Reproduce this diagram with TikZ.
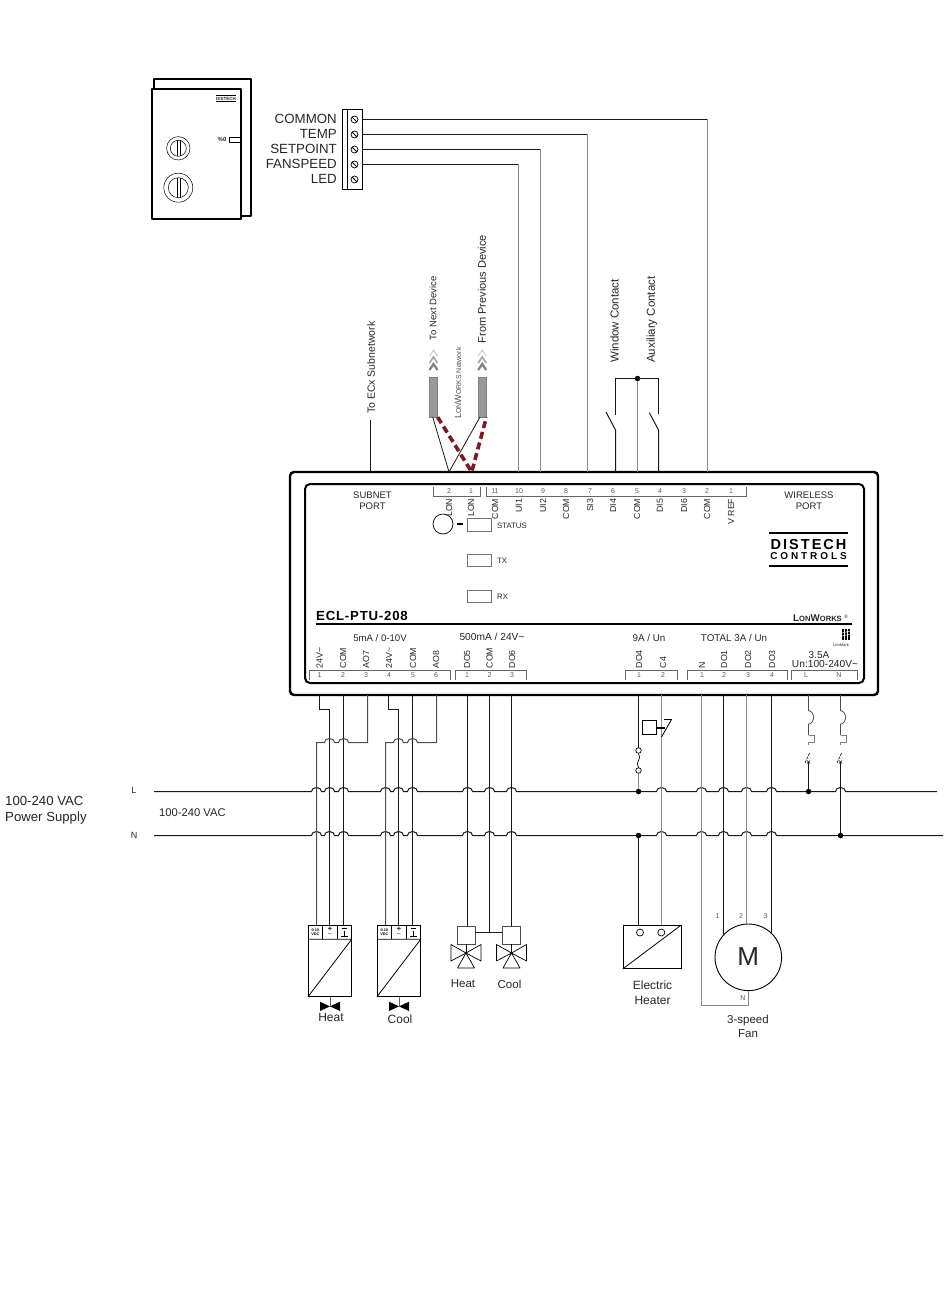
\documentclass[tikz,border=0pt]{standalone}
\usepackage{fontspec}
\setmainfont{Liberation Sans}
\newfontfamily\logofont[LetterSpace=14]{Liberation Sans}
\newfontfamily\logofontb[LetterSpace=29]{Liberation Sans}
\newfontfamily\modelfont[LetterSpace=6]{Liberation Sans}
\usetikzlibrary{calc}
\definecolor{wiregray}{HTML}{8A8A8A}
\definecolor{netred}{HTML}{7A1A20}
\tikzset{
  txt/.style={font=\fontsize{#1}{#1}\selectfont, text=black!85},
  wire/.style={draw=black!90, line width=1pt},
  graywire/.style={draw=wiregray, line width=1pt},
  pinnum/.style={txt=7, text=black!65},
  pinup/.style={txt=8.8, rotate=90, anchor=west},
  pindown/.style={txt=8.8, rotate=90, anchor=east},
  bracket/.style={draw=black!60, line width=0.8pt},
  side/.style={txt=#1, rotate=90, anchor=west},
  screw/.style={circle, draw, line width=0.7pt, minimum size=7pt},
  junction/.style={circle, fill=black, minimum size=5.5pt},
  led/.style={draw=black!55, line width=0.8pt, minimum width=24pt, minimum height=12.5pt}
}
\begin{document}
\begin{tikzpicture}[x=1pt, y=-1pt, every node/.style={inner sep=0pt}]
  \useasboundingbox (0,0) rectangle (950,1292);

  % Wall sensor
  \draw[line width=1.2pt, line join=round] (154,89) -- (154,79) -- (251,79) -- (251,216) -- (241,216);
  \draw[line width=1.2pt, line join=round] (152,89) rectangle (241,219);
  \node[txt=4.5, font=\bfseries\fontsize{4.5}{4.5}\selectfont] (sensorlogo) at (226,98.5) {DISTECH};
  \draw[line width=0.6pt] (216,95.5) -- (236,95.5) (216,101.5) -- (236,101.5);
  \node[txt=6, font=\bfseries\fontsize{6}{6}\selectfont] (sensorled) at (222,139.5) {\%0};
  \draw[line width=0.7pt] (241,137) -- (229,137) -- (229,142) -- (241,142);
  \foreach \n/\yy/\ra/\rb in {a/148.3/11.7/8, b/187.7/14.5/10} {
    \node[circle, draw, line width=0.5pt, minimum size=2*\ra pt] (knob\n) at (178.3,\yy) {};
    \node[circle, draw, line width=0.5pt, minimum size=2*\rb pt] at (knob\n) {};
    \draw[line width=0.5pt] ($(knob\n)+(-1.5,-\rb)$) -- ($(knob\n)+(-1.5,\rb)$)
      ($(knob\n)+(1.5,-\rb)$) -- ($(knob\n)+(1.5,\rb)$);
  }

  % Sensor terminal block
  \node[draw, line width=0.8pt, minimum width=20.5pt, minimum height=80pt] (block) at (352.2,149) {};
  \draw[line width=0.8pt] (347,109) -- (347,189);
  \foreach \i/\yy/\lab in {1/119.5/COMMON, 2/134.5/TEMP, 3/149.5/SETPOINT, 4/164.5/FANSPEED, 5/179.5/LED} {
    \node[screw] (screw\i) at (354.5,\yy) {};
    \draw[line width=0.8pt] ($(screw\i)+(-2.4,-2.4)$) -- ($(screw\i)+(2.4,2.4)$);
    \node[txt=13.3, anchor=east] (sensor\i) at (337,\yy-0.5) {\lab};
  }

  % Controller housing
  \node[draw, line width=2.4pt, rounded corners=4pt, minimum width=588pt, minimum height=223pt] (ctrl) at (584,583.5) {};
  \node[draw, line width=2pt, rounded corners=5pt, minimum width=559pt, minimum height=199pt] (panel) at (584.5,583.5) {};
  \draw[line width=2.2pt] (316,624) -- (852,624);
  \node[txt=9.5, align=center] (subnet) at (372.5,500.5) {SUBNET\\[1.5pt]PORT};
  \node[txt=9.5, align=center] (wireless) at (809,500.5) {WIRELESS\\[1.5pt]PORT};
  \node[anchor=west, font=\bfseries\fontsize{13.2}{13.2}\selectfont\modelfont] (model) at (316,615.5) {ECL-PTU-208};

  % Logos
  \draw[line width=1.1pt] (769,533) -- (848,533) (769,566) -- (848,566);
  \node[font=\logofont\bfseries\fontsize{14.5}{14.5}\selectfont] (logoa) at (808.5,544.5) {DISTECH};
  \node[font=\logofontb\bfseries\fontsize{10}{10}\selectfont] (logob) at (808.5,556.5) {CONTROLS};
  \node[anchor=east, font=\bfseries\fontsize{7.6}{7.6}\selectfont, text=black!85] (lonworks) at (842,618.5)
    {{\fontsize{9.8}{9.8}\selectfont L}ON{\fontsize{9.8}{9.8}\selectfont W}ORKS};
  \node[txt=5, anchor=west] (regmark) at (844,617) {\textregistered};
  \foreach \xa in {842,843.5,...,850} {
    \draw[line width=0.7pt] (\xa,629) -- (\xa,640);
  }
  \draw[white, line width=0.5pt] (842,633) -- (850,631) (842,636) -- (850,634);
  \node[txt=4] (lonmark) at (841,645) {LonMark};

  % Status indicators
  \node[circle, draw, line width=0.7pt, minimum size=20pt] (service) at (443,524) {};
  \node[led] (status) at (479.5,525) {};
  \node[led] (tx) at (479.5,560.5) {};
  \node[led] (rx) at (479.5,596.5) {};
  \draw[line width=1.1pt] (service.east)+(4,0) -- +(10,0);
  \node[txt=7.8, anchor=west] (statuslab) at (497,526) {STATUS};
  \node[txt=7.8, anchor=west] (txlab) at (497,561) {TX};
  \node[txt=7.8, anchor=west] (rxlab) at (497,597) {RX};

  % Upper terminals
  \draw[bracket] (433,487) -- (433,496) -- (480,496) -- (480,487);
  \draw[bracket] (486,487) -- (486,496) -- (746,496) -- (746,487);
  \foreach \n/\x/\num/\lab in {a/449/2/LON, b/471/1/LON, c/495/11/COM, d/519/10/UI1, e/543/9/UI2, f/566/8/COM,
      g/590/7/SI3, h/613/6/DI4, i/637/5/COM, j/660/4/DI5, k/684/3/DI6, l/707/2/COM, m/731/1/V REF} {
    \node[pinnum] (upnum\n) at (\x,491.5) {\num};
    \node[pindown] (uplab\n) at (\x,498.5) {\lab};
  }

  % Lower terminals
  \draw[bracket] (309,680) -- (309,670.5) -- (450.7,670.5) -- (450.7,680);
  \draw[bracket] (455,680) -- (455,670.5) -- (526,670.5) -- (526,680);
  \draw[bracket] (625,680) -- (625,670.5) -- (677,670.5) -- (677,680);
  \draw[bracket] (687,680) -- (687,670.5) -- (787,670.5) -- (787,680);
  \draw[bracket] (791,680) -- (791,670.5) -- (857,670.5) -- (857,680);
  \foreach \n/\x/\num/\lab in {a/319.5/1/24V\textasciitilde, b/343/2/COM, c/366/3/AO7, d/389/4/24V\textasciitilde, e/413/5/COM, f/436/6/AO8,
      g/467/1/DO5, h/489.5/2/COM, i/512/3/DO6, j/639/1/DO4, k/663/2/C4, l/702/1/N, m/724/2/DO1, n/748/3/DO2, o/772/4/DO3} {
    \node[pinnum] (dnnum\n) at (\x,675.5) {\num};
    \node[pinup] (dnlab\n) at (\x,668.5) {\lab};
  }
  \node[pinnum] (dnnumL) at (806,675.5) {L};
  \node[pinnum] (dnnumN) at (839,675.5) {N};
  \node[txt=9.6] (ratea) at (380,638) {5mA / 0-10V};
  \node[txt=10.2] (rateb) at (492,637) {500mA / 24V\textasciitilde};
  \node[txt=9.8] (ratec) at (649,637.5) {9A / Un};
  \node[txt=9.8] (rated) at (734,637.5) {TOTAL 3A / Un};
  \node[txt=10] (ratee) at (819,655) {3.5A};
  \node[txt=10.2] (ratef) at (825,664) {Un:100-240V\textasciitilde};

  % Connection points on the housing
  \foreach \n/\x in {subnet/370.5, lona/449, lonb/471.7, fan/518.5, setp/540.5, temp/587.5, win/615.5, mid/637.5, aux/658.5, common/707.5} {
    \coordinate (up\n) at (\x,472);
  }
  \foreach \n/\x in {a/319.5, b/343.5, c/367.5, d/388.5, e/412.5, f/436.5, g/467.5, h/489.5, i/511.5, j/638.5, k/661.5, l/701.5, m/723.5, n/746.5, o/771.5, p/808.5, q/840.5} {
    \coordinate (dn\n) at (\x,695);
  }

  % Sensor wires
  \draw[wire] (block.east |- screw1) -- (707.5,119.5);
  \draw[wire] (block.east |- screw2) -- (587.5,134.5);
  \draw[wire] (block.east |- screw3) -- (540.5,149.5);
  \draw[wire] (block.east |- screw4) -- (518.5,164.5);
  \draw[graywire] (518.5,164.5) -- (upfan);
  \draw[graywire] (540.5,149.5) -- (upsetp);
  \draw[graywire] (587.5,134.5) -- (uptemp);
  \draw[graywire] (707.5,119.5) -- (upcommon);

  % Subnetwork and LON network
  \draw[wire] (upsubnet) -- (370.5,420);
  \node[side=10.5] (subnetlab) at (371,414) {To ECx Subnetwork};
  \node[side=9.5] (nextlab) at (433,340.5) {To Next Device};
  \node[side=11] (prevlab) at (482,343.5) {From Previous Device};
  \node[rotate=90, anchor=west, font=\fontsize{7}{7}\selectfont, text=black!70] (lonlab) at (458,419)
    {{\fontsize{9}{9}\selectfont L}ON{\fontsize{9}{9}\selectfont W}ORKS Network};
  \foreach \n/\x in {a/433.5, b/482.2} {
    \node[fill=black!40, draw=black!50, line width=0.4pt, minimum width=8pt, minimum height=40pt] (cable\n) at (\x,397) {};
    \foreach \yy/\col/\lw in {350/black!20/1, 357/black!35/1.6, 364/black!50/2.2} {
      \draw[draw=\col, line width=\lw pt] (\x-4,\yy+6) -- (\x,\yy) -- (\x+4,\yy+6);
    }
  }
  \draw[wire, line width=0.8pt] (432.7,417) -- (uplona) -- (480,417);
  \draw[netred, line width=3.6pt, dash pattern=on 7pt off 4pt] (cablea.south east) -- (uplonb) -- (cableb.south east);

  % Contacts
  \node[side=11.5] (windowlab) at (614.5,363) {Window Contact};
  \node[side=11.5] (auxlab) at (652,363) {Auxiliary Contact};
  \node[junction] (contactjoin) at (637.5,378.5) {};
  \draw[wire] (upwin) -- (615.5,430) -- (606,412);
  \draw[wire] (615.5,415) -- (615.5,378.5) -- (658.5,378.5) -- (658.5,414);
  \draw[wire] (upaux) -- (658.5,430) -- (649.3,412.7);
  \draw[graywire] (contactjoin) -- (upmid);

  % Supply lines
  \node[txt=9] (lineL) at (134,790) {L};
  \node[txt=9] (lineN) at (134,835) {N};
  \node[txt=11.2, anchor=west] (supplyb) at (159,813) {100-240 VAC};
  \node[txt=13.2, anchor=west, align=left] (supplya) at (5,810) {100-240 VAC\\[2.5pt]Power Supply};
  \draw[wire] (154,791.5) foreach \x in {316.5,329.5,343.5,385.5,398.5,412.5,467.5,489.5,511.5,661.5,701.5,723.5,746.5,771.5,840.5} {
    -- (\x-5,791.5) arc (180:360:5 and 4) } -- (937,791.5);
  \draw[wire] (154,835.5) foreach \x in {316.5,329.5,343.5,385.5,398.5,412.5,467.5,489.5,511.5,661.5,701.5,723.5,746.5,771.5} {
    -- (\x-5,835.5) arc (180:360:5 and 4) } -- (943,835.5);
  \node[junction] (dotLa) at (638.5,791.5) {};
  \node[junction] (dotLb) at (808.5,791.5) {};
  \node[junction] (dotNa) at (638.5,835.5) {};
  \node[junction] (dotNb) at (840.5,835.5) {};

  % Actuator wiring
  \draw[wire] (dna) -- (319.5,709.5) -- (329.5,709.5) -- (329.5,925);
  \draw[wire] (dnb) -- (343.5,925);
  \draw[wire, draw=black!70] (316.5,925) -- (316.5,742.5) foreach \x in {329.5,343.5} {
    -- (\x-5,742.5) arc (180:360:5 and 4) } -- (367.5,742.5) -- (dnc);
  \draw[wire] (dnd) -- (388.5,709.5) -- (398.5,709.5) -- (398.5,925);
  \draw[wire] (dne) -- (412.5,925);
  \draw[wire, draw=black!70] (385.5,925) -- (385.5,742.5) foreach \x in {398.5,412.5} {
    -- (\x-5,742.5) arc (180:360:5 and 4) } -- (436.5,742.5) -- (dnf);

  % Modulating actuators
  \foreach \n/\ax/\lab/\ly in {a/308/Heat/1017.5, b/377/Cool/1019} {
    \node[draw, line width=0.8pt, minimum width=43.7pt, minimum height=71.7pt] (act\n) at (\ax+21.85,960.85) {};
    \draw[line width=0.8pt] (\ax,939.3) -- (\ax+43.7,939.3) (\ax,996.7) -- (\ax+43.7,939.3);
    \draw[line width=0.7pt] (\ax+14.7,925) -- (\ax+14.7,939.3) (\ax+29.3,925) -- (\ax+29.3,939.3);
    \node[font=\bfseries\fontsize{3.8}{3.8}\selectfont, align=center] (range\n) at (\ax+7.3,932) {0-10\\[0.8pt]VDC};
    \node[txt=8, font=\bfseries\fontsize{8}{8}\selectfont] (plus\n) at (\ax+22,929.5) {+};
    \node[txt=7] (ac\n) at (\ax+22,935.5) {\textasciitilde};
    \draw[line width=0.7pt] (\ax+33.5,928.5) -- (\ax+39,928.5) (\ax+36.2,931) -- (\ax+36.2,936.5) (\ax+33,936.5) -- (\ax+39.5,936.5);
    \draw[wire, draw=black!60] (\ax+22,996.7) -- (\ax+22,1006);
    \fill (\ax+12,1001.7) -- (\ax+32,1011) -- (\ax+32,1001.7) -- (\ax+12,1011) -- cycle;
    \node[txt=12] (actlab\n) at (\ax+23,\ly) {\lab};
  }

  % Zone valves
  \foreach \n/\x/\lab/\lx in {a/466/Heat/463, b/511.5/Cool/509.5} {
    \node[draw=black!70, line width=0.8pt, minimum size=18pt] (head\n) at (\x,935) {};
    \draw[line width=0.7pt, line join=round] (\x,953) -- (\x-15,944.5) -- (\x-15,961) -- cycle
      (\x,953) -- (\x+15,944.5) -- (\x+15,961) -- cycle
      (\x,953) -- (\x-8.5,968) -- (\x+8.5,968) -- cycle;
    \draw[line width=0.7pt] (head\n.south) -- (\x,953);
    \fill (\x,953) circle (1.4);
    \node[txt=11.5] (valvelab\n) at (\lx,984) {\lab};
  }
  \coordinate (zonejoin) at (489.5,932.5);
  \draw[wire] (dng) -- (467.5,926);
  \draw[wire] (dni) -- (511.5,926);
  \draw[wire] (zonejoin -| heada.east) -- (zonejoin -| headb.west);
  \draw[wire] (dnh) -- (zonejoin);

  % Electric heater circuit
  \draw[wire] (dnj) -- (638.5,747.5);
  \node[circle, draw, line width=0.7pt, minimum size=5.5pt] (fusea) at (638.5,750.5) {};
  \node[circle, draw, line width=0.7pt, minimum size=5.5pt] (fuseb) at (638.5,770.5) {};
  \draw[line width=0.7pt] (fusea.south) .. controls (642.5,759) and (634.5,762) .. (fuseb.north);
  \draw[graywire] (fuseb.south) -- (dotLa);
  \draw[wire] (dotNa) -- (638.5,925);
  \draw[graywire, line width=1.4pt] (dnk) -- (661.5,925);
  \node[draw, line width=0.8pt, minimum width=14pt, minimum height=14pt] (relay) at (649.3,727.7) {};
  \draw[line width=1.6pt] (relay.east) -- (665,727.7);
  \draw[line width=0.8pt] (661.5,737) -- (671.5,719.5) -- (664,719.5);
  \node[draw, line width=0.9pt, minimum width=57.7pt, minimum height=43pt] (heater) at (652.2,946.8) {};
  \draw[line width=0.8pt] (heater.south west) -- (heater.north east);
  \node[circle, draw, line width=0.7pt, minimum size=7pt, fill=white] (heatera) at (640,932.5) {};
  \node[circle, draw, line width=0.7pt, minimum size=7pt, fill=white] (heaterb) at (661.3,932.5) {};
  \node[txt=12, align=center] (heaterlab) at (652.5,992.5) {Electric\\[2.5pt]Heater};

  % Fan motor
  \node[circle, draw, line width=0.9pt, minimum size=66.6pt] (motor) at (748.3,957.3) {};
  \node[txt=26] (motorlab) at (748.3,956.5) {M};
  \draw[graywire] (dnl) -- (701.5,1005.5) -- (748.5,1005.5) -- (748.5,990.6);
  \draw[wire] (dnm) -- (723.5,935);
  \draw[graywire] (dnn) -- (motor.north -| dnn);
  \draw[wire] (dno) -- (771.5,933.6);
  \node[pinnum] (motora) at (717.5,916.5) {1};
  \node[pinnum] (motorb) at (741,916.5) {2};
  \node[pinnum] (motorc) at (765.5,916.5) {3};
  \node[pinnum] (motorn) at (743,998) {N};
  \node[txt=11.5, align=center] (motortxt) at (748,1026) {3-speed\\[2.5pt]Fan};

  % Power feed with breaker
  \foreach \n/\x/\yend in {p/808.5/dotLb, q/840.5/dotNb} {
    \draw[wire, draw=black!70, line width=0.8pt] (dn\n) -- (\x,710.7) arc (270:450:5 and 6.7) -- (\x,735);
    \draw[wire, draw=black!50, line width=0.8pt] (\x,735) -- (\x+5.5,735) -- (\x+5.5,742) -- (\x,742) -- (\x,745);
    \draw[line width=0.6pt, dash pattern=on 3pt off 1pt] (\x-3.5,763) -- (\x+1,753);
    \draw[line width=0.5pt] (\x-1.5,760.5) -- (\x+1.5,763.5) (\x-1.5,763.5) -- (\x+1.5,760.5);
    \draw[wire] (\x,763) -- (\yend);
  }
\end{tikzpicture}
\end{document}
